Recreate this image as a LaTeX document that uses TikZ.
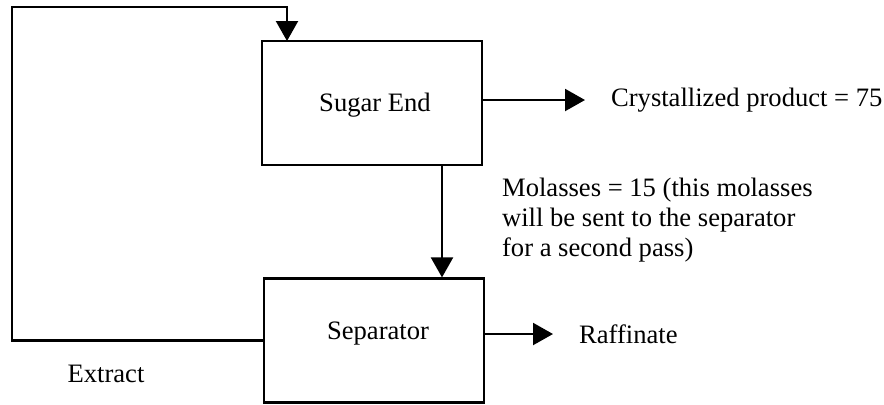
\documentclass[tikz,border=0pt]{standalone}
\usepackage{fontspec}
\setmainfont{Liberation Serif}
\usetikzlibrary{arrows.meta}

\tikzset{
	unit/.style={draw, minimum width=110pt, minimum height=62pt, inner sep=0pt},
	flow/.style={-{Triangle[length=10pt, width=11pt]}},
	stream/.style={inner sep=0pt}
}

\begin{document}
\begin{tikzpicture}[x=.5pt, y=-.5pt, line width=1.1pt, every node/.style={font=\fontsize{13.3pt}{15pt}\selectfont}]
	\useasboundingbox (0,0) rectangle (884,404);
	\node[unit] (sugar) at (372, 103) {};
	\node[] (sugarText) at (375, 105) {Sugar End};
	\node[unit] (sep) at (374, 340.5) {};
	\node[] (sepText) at (378, 334) {Separator};
	\node[stream, anchor=west] (product) at (610, 100) {Crystallized product = 75};
	\node[stream, anchor=west] (raff) at (578, 334) {Raffinate};
	\node[] (extract) at (106, 374) {Extract};
	\node[stream, anchor=north west, align=left] (molasses) at (501, 177) {Molasses = 15 (this molasses\\will be sent to the separator\\for a second pass)};
	\coordinate (loopL) at (12, 7);
	\coordinate (inlet) at (287, 41);
	\coordinate (dropX) at (442, 0);
	% streams
	\draw[flow] (sugar.east |- product.west) -- ([xshift=-12.5pt]product.west);
	\draw[flow] (sep.east |- raff.west) -- ([xshift=-12.5pt]raff.west);
	\draw[flow] (sugar.south -| dropX) -- (sep.north -| dropX);
	% recycle of extract
	\draw[flow] (sep.west) -| (loopL) -| (inlet);
\end{tikzpicture}
\end{document}
